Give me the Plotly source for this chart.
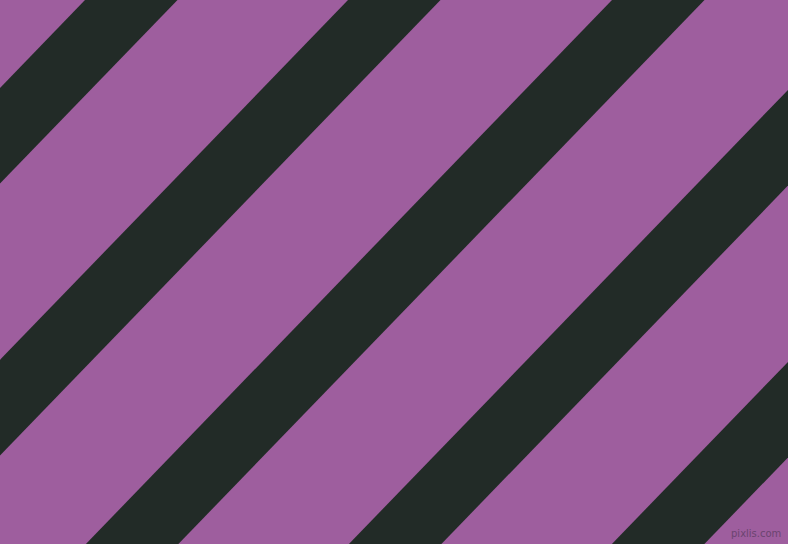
import plotly.graph_objects as go

# canvas size in pixels
W, H = 788, 544

# where each dark stripe's upper edge meets the top border (x at y=0)
stripe_starts = [85, 348, 612, 875, 1138]
stripe_width = 92.5   # horizontal width of a stripe
slope = 1.034         # dy/dx of the stripe edges (going down-left)

purple = "#9e5e9e"
dark = "#222b27"

fig = go.Figure()

for x0 in stripe_starts:
    x1 = x0 + stripe_width
    # run each stripe from y=-20 down past the bottom edge
    ya, yb = -20, H + 20
    xs = [x0 + 20 / slope, x1 + 20 / slope, x1 - yb / slope, x0 - yb / slope, x0 + 20 / slope]
    ys = [ya, ya, yb, yb, ya]
    fig.add_trace(go.Scatter(x=xs, y=ys, mode="lines", fill="toself",
                             fillcolor=dark, line=dict(width=0, color=dark),
                             hoverinfo="skip", showlegend=False))

fig.add_annotation(x=W - 5, y=H - 11, xref="x", yref="y", text="pixlis.com",
                   showarrow=False, xanchor="right", yanchor="middle",
                   font=dict(family="DejaVu Sans", size=10, color="#6b4470"))

fig.update_layout(width=W, height=H, margin=dict(l=0, r=0, t=0, b=0),
                  plot_bgcolor=purple, paper_bgcolor=purple,
                  xaxis=dict(range=[0, W], visible=False, fixedrange=True),
                  yaxis=dict(range=[H, 0], visible=False, fixedrange=True))

# drop the browser's default page margin so the figure fills the window
fig.write_html("out.html", config={"displayModeBar": False},
               post_script="document.body.style.margin='0';document.body.style.overflow='hidden';")
